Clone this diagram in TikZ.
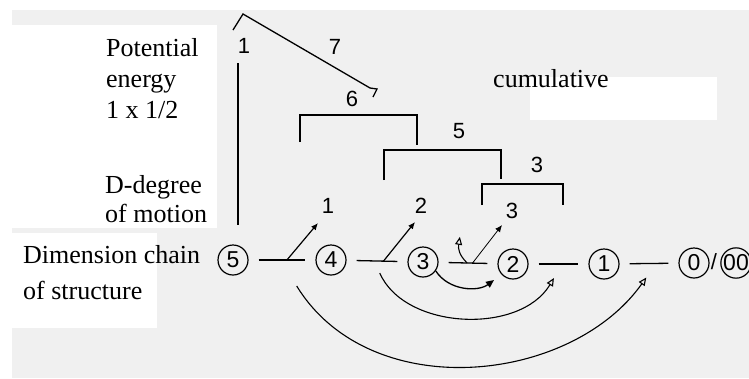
\documentclass[tikz,border=0pt]{standalone}
\usepackage{fontspec}
\setmainfont{Liberation Serif}
\newfontfamily\handfont{Liberation Sans}
\usetikzlibrary{arrows.meta,calc,positioning}

\begin{document}
\begin{tikzpicture}[x=1pt,y=-1pt,
  dim/.style={circle,draw,line width=1.2pt,minimum size=30pt,inner sep=0pt,font=\handfont\fontsize{23}{23}\selectfont},
  hnum/.style={inner sep=0pt,font=\handfont\fontsize{22}{22}\selectfont},
  txt/.style={inner sep=0pt,anchor=north west,align=left,font=\fontsize{26}{31}\selectfont},
  link/.style={line width=1.3pt,shorten <=10pt,shorten >=10pt},
  pen/.style={line width=1.3pt},
  rise/.style={line width=1.2pt,-{Latex[length=7pt,width=6pt]}},
  back/.style={line width=1.1pt,-{Triangle[open,length=8pt,width=7pt]}}]
  \useasboundingbox (0,0) rectangle (749,378);
  % paper
  \fill[black!6] (0,0) rectangle (749,378);
  \fill[white] (0,0) rectangle (749,10);
  \fill[white] (0,0) rectangle (12,378);
  \fill[white] (12,25) rectangle (217,228);
  \fill[white] (12,233) rectangle (157,328);
  \fill[white] (530,77) rectangle (717,120);
  % labels
  \node[txt] (pe) at (106,38) {Potential\\energy\\1 x 1/2};
  \node[txt,font=\fontsize{26}{29}\selectfont] (dd) at (105,175) {D-degree\\of motion};
  \node[txt,font=\fontsize{26}{36}\selectfont] (dc) at (23,245) {Dimension chain\\of structure};
  \node[inner sep=0pt,anchor=base west,font=\fontsize{26}{31}\selectfont] (cum) at (493,87) {cumulative};
  % dimension chain
  \node[dim] (n5) at (233,260) {5};
  \node[dim] (n4) at (331,260) {4};
  \node[dim] (n3) at (423,262) {3};
  \node[dim] (n2) at (513,264) {2};
  \node[dim] (n1) at (604,264) {1};
  \node[dim] (n0) at (694,263) {0};
  \node[hnum] (sl) at (714,262) {/};
  \node[dim] (n00) at (736,263) {00};
  \draw[link] (n5) -- (n4);
  \draw[link] (n4) -- (n3);
  \draw[link] (n3) -- (n2);
  \draw[link] (n2) -- (n1);
  \draw[link] (n1) -- (n0);
  % degrees of motion
  \node[hnum] (m1) at (328,206) {1};
  \node[hnum] (m2) at (421,206) {2};
  \node[hnum] (m3) at (512,211) {3};
  \coordinate (t1) at (318,223);
  \coordinate (t2) at (415,222);
  \coordinate (t3) at (502,225);
  \draw[rise] ($(n5)!0.55!(n4)$) -- (t1);
  \draw[rise] ($(n4)!0.57!(n3)$) -- (t2);
  \draw[rise,line width=0.8pt] ($(n3)!0.55!(n2)$) -- (t3);
  \draw[back] ($(n3)!0.49!(n2)$) .. controls +(-8,-8) and +(-2,12) .. ($(n3)!0.41!(n2)+(0,-26)$);
  % return arcs
  \draw[pen,-{Triangle[length=8pt,width=7pt]}] (n3.-35) .. controls +(13,20) and +(-16,12) .. ($(n2)+(-19,16)$);
  \draw[back] ($(n4)!0.53!(n3)+(0,12)$) .. controls +(25,57) and +(-34,57) .. ($(n2)!0.45!(n1)+(0,14)$);
  \draw[back] ($(n5)!0.65!(n4)+(0,26)$) .. controls +(73,119) and +(-76,107) .. ($(n1)!0.47!(n0)+(0,14)$);
  % cumulative brackets
  \draw[pen] (233,30) -- (243,14) -- (370,88) -- (377,89) -- (373,97);
  \draw[pen] (238,63) -- (238,225);
  \draw[pen] (300,142) -- (300,115) -- (417,115) -- (417,145);
  \draw[pen] (384,180) -- (384,150) -- (501,150) -- (501,179);
  \draw[pen] (482,205) -- (482,184) -- (563,184) -- (563,205);
  \node[hnum] (b1) at (244,46) {1};
  \node[hnum] (b7) at (335,47) {7};
  \node[hnum] (b6) at (352,99) {6};
  \node[hnum] (b5) at (459,131) {5};
  \node[hnum] (b3) at (537,165) {3};
\end{tikzpicture}
\end{document}
